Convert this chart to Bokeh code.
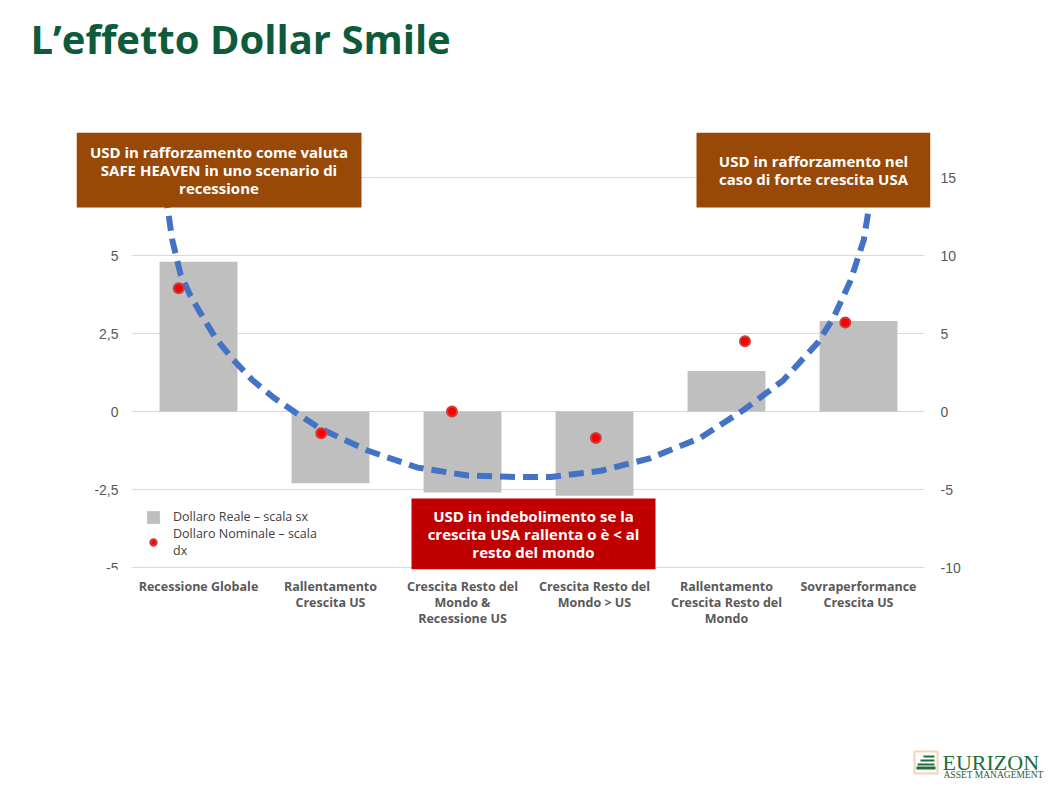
from bokeh.plotting import figure
from bokeh.layouts import column
from bokeh.models import (Range1d, LinearAxis, FixedTicker, Grid, Label, BoxAnnotation,
                          Legend, LegendItem, CustomJSTickFormatter)
from bokeh.embed import file_html
from bokeh.resources import INLINE

# dati
categories = ["Recessione Globale", "Rallentamento\nCrescita US",
              "Crescita Resto del\nMondo &\nRecessione US", "Crescita Resto del\nMondo > US",
              "Rallentamento\nCrescita Resto del\nMondo", "Sovraperformance\nCrescita US"]
dollaro_reale = [4.8, -2.3, -2.6, -2.7, 1.3, 2.9]            # scala sx
dollaro_nominale = [7.9, -1.4, 0.0, -1.7, 4.5, 5.7]          # scala dx
nominale_offset = [-0.15, -0.07, -0.08, 0.01, 0.14, -0.10]   # spostamento del punto nella categoria
smile_x = [-0.25, -0.235, -0.199, -0.136, -0.06, 0.015, 0.13, 0.265, 0.41, 0.568, 0.74, 0.924,
           1.28, 1.66, 2.04, 2.42, 2.67, 3.05, 3.42, 3.80, 4.13, 4.43, 4.69, 4.81, 4.94,
           5.04, 5.08, 5.09]
smile_y = [14.0, 13.1, 11.0, 8.8, 7.4, 6.3, 4.7, 3.3, 2.0, 0.9, -0.1, -1.1,
           -2.5, -3.6, -4.1, -4.2, -4.2, -3.8, -3.0, -1.7, 0.1, 2.0, 4.4, 6.0, 8.4,
           11.0, 13.1, 14.0]
left_ticks = [-5, -2.5, 0, 2.5, 5]
right_ticks = [-10, -5, 0, 5, 10, 15]

W = 1062
TOP_H, MAIN_H, BOT_H = 132, 568, 91
# riquadro del grafico principale (pixel della pagina)
FL, FR, FT, FB = 76, 930, 132, 569
CAT0, CAT_W = 198, 132          # centro della prima categoria, passo
ZERO, PX_UNIT = 411, 31.2       # y dello zero, pixel per unita (scala sx)


def px_x(px):
    return (px - CAT0) / CAT_W


def px_y(py):
    return (ZERO - py) / PX_UNIT


GREY_TXT = "#595959"
FONT = "Open Sans"
fmt = CustomJSTickFormatter(code="return tick.toString().replace('.', ',')")


def deco_figure(height, y0):
    f = figure(width=W, height=height, output_backend="svg", toolbar_location=None, title=None,
               x_range=Range1d(0, W), y_range=Range1d(y0 + height, y0),
               x_axis_type=None, y_axis_type=None, min_border=0, frame_align=False)
    f.outline_line_color = None
    f.xgrid.grid_line_color = None
    f.ygrid.grid_line_color = None
    return f


# ---- titolo
top = deco_figure(TOP_H, 0)
top.add_layout(Label(x=30, y=38, text="L’effetto Dollar Smile", text_baseline="alphabetic",
                     text_font=FONT, text_font_style="bold", text_font_size="40px",
                     text_color="#0E5B3C"))

# ---- grafico
p = figure(width=W, height=MAIN_H, output_backend="svg", toolbar_location=None, title=None,
           x_range=Range1d(px_x(FL), px_x(FR)), y_range=Range1d(px_y(FB), px_y(FT)),
           min_border_left=FL, min_border_right=W - FR, min_border_top=0,
           min_border_bottom=TOP_H + MAIN_H - FB, frame_align=False)
p.outline_line_color = None
p.extra_y_ranges = {"right": Range1d(px_y(FB) * 2, px_y(FT) * 2)}

p.xgrid.grid_line_color = None
p.ygrid.grid_line_color = None
p.add_layout(Grid(dimension=1, ticker=FixedTicker(ticks=right_ticks), y_range_name="right",
                  cross_bounds=(-0.5, 5.5), grid_line_color="#D9D9D9", grid_line_width=1))

p.xaxis.ticker = FixedTicker(ticks=list(range(len(categories))))
p.xaxis.major_label_overrides = {i: c for i, c in enumerate(categories)}
p.xaxis.major_label_standoff = 8
p.xaxis.major_label_text_font = FONT
p.xaxis.major_label_text_font_style = "bold"
p.xaxis.major_label_text_font_size = "12.5px"
p.xaxis.major_label_text_line_height = 0.97
p.xaxis.major_label_text_color = GREY_TXT

p.yaxis.ticker = FixedTicker(ticks=left_ticks)
p.yaxis.formatter = fmt
p.yaxis.fixed_location = -0.5
p.yaxis.major_label_standoff = 14

right = LinearAxis(y_range_name="right", ticker=FixedTicker(ticks=right_ticks), formatter=fmt,
                   major_label_standoff=10)
p.add_layout(right, "right")

for ax in p.yaxis:
    ax.major_label_text_font = "Liberation Sans"
    ax.major_label_text_font_size = "14px"
    ax.major_label_text_color = GREY_TXT
for ax in p.axis:
    ax.axis_line_color = None
    ax.major_tick_line_color = None
    ax.minor_tick_line_color = None
    ax.major_tick_out = 0
    ax.major_tick_in = 0

xs = list(range(len(categories)))
bars = p.vbar(x=xs, top=dollaro_reale, bottom=0, width=0.59, fill_color="#BFBFBF", line_color=None)

p.line(smile_x, smile_y, y_range_name="right", line_color="#4472C4", line_width=6,
       line_dash="15 8")

dots = p.scatter([i + o for i, o in zip(xs, nominale_offset)], dollaro_nominale,
                 y_range_name="right", size=10, fill_color="#FF0000", line_color="#C84040",
                 line_width=2)

legend = Legend(items=[LegendItem(label="Dollaro Reale – scala sx", renderers=[bars]),
                       LegendItem(label="Dollaro Nominale – scala\ndx", renderers=[dots])],
                location=(59, 0), background_fill_alpha=0, border_line_alpha=0,
                label_text_font=FONT, label_text_font_size="12.5px", label_text_color="#404040",
                label_text_line_height=0.95,
                glyph_width=16, glyph_height=16, spacing=0, label_standoff=12, padding=10)
p.add_layout(legend, "center")

# riquadri di commento
boxes = [
    ((76, 361, 132, 207), "#984807",
     "USD in rafforzamento come valuta\nSAFE HEAVEN in uno scenario di\nrecessione"),
    ((696, 930, 132, 207), "#984807", "USD in rafforzamento nel\ncaso di forte crescita USA"),
    ((411, 655, 498, 569), "#C00000",
     "USD in indebolimento se la\ncrescita USA rallenta o è < al\nresto del mondo"),
]
for (l, r, t, b), col, txt in boxes:
    p.add_layout(BoxAnnotation(left=px_x(l), right=px_x(r), top=px_y(t), bottom=px_y(b),
                               fill_color=col, fill_alpha=1, line_color=None, level="overlay"))
for (l, r, t, b), col, txt in boxes:
    p.add_layout(Label(x=px_x((l + r) / 2), y=px_y((t + b) / 2), text=txt,
                       text_align="center", text_baseline="middle", text_color="white",
                       text_font=FONT, text_font_style="bold", text_font_size="15px",
                       text_line_height=0.88, level="overlay"))

# ---- logo
bot = deco_figure(BOT_H, TOP_H + MAIN_H)
bot.add_layout(BoxAnnotation(left=914, right=937, top=751, bottom=773, fill_color="white",
                             fill_alpha=1, line_color="#E46C0A", line_width=2))
for l, r, t, b in [(923, 934, 755, 757), (920, 934, 759, 761), (917, 934, 763, 765),
                   (916, 935, 766, 769)]:
    bot.add_layout(BoxAnnotation(left=l, right=r, top=t, bottom=b, fill_color="#1E6E3A",
                                 fill_alpha=1, line_color=None))
bot.add_layout(Label(x=942, y=762, text="EURIZON", text_baseline="alphabetic",
                     text_font="Liberation Serif", text_font_size="22px", text_color="#1E6E3A"))
bot.add_layout(Label(x=943, y=774, text="ASSET MANAGEMENT", text_baseline="alphabetic",
                     text_font="Liberation Serif", text_font_size="9.5px", text_color="#1E5E34"))

page = column(top, p, bot, spacing=0)
open("out.html", "w").write(file_html(page, INLINE))
